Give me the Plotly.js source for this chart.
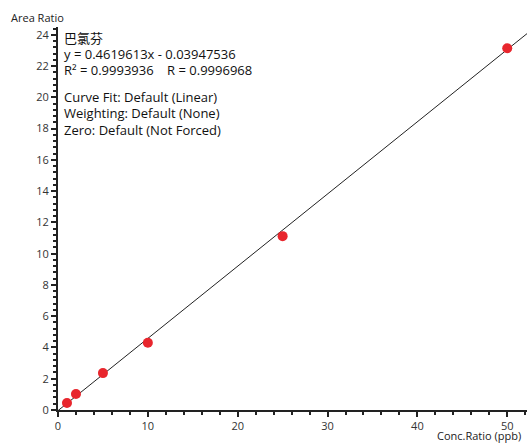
<!DOCTYPE html>
<html><head><meta charset="utf-8">
<script src="https://cdn.plot.ly/plotly-3.0.1.min.js"></script>
<style>html,body{margin:0;padding:0;background:#fff}#c{width:527px;height:444px}</style>
</head><body><div id="c"></div>
<script>
const concRatio = [1, 2, 5, 10, 25, 50];
const areaRatio = [0.45, 1.02, 2.36, 4.3, 11.12, 23.14];
const slope = 0.4619613;
const intercept = -0.03947536;
const fitX = [0, 52.2];
const fitY = fitX.map(v => slope * v + intercept);
const infoLines = [
  "巴氯芬",
  "y = 0.4619613x - 0.03947536",
  "R² = 0.9993936\u00a0\u00a0\u00a0\u00a0R = 0.9996968",
  "Curve Fit: Default (Linear)",
  "Weighting: Default (None)",
  "Zero: Default (Not Forced)"
];
const infoY = [0.9713, 0.9295, 0.8877, 0.8172, 0.7755, 0.7311];
const font = "Open Sans, Noto Sans CJK SC, sans-serif";
const annotations = infoLines.map((t, i) => ({
  text: t, xref: 'paper', yref: 'paper', x: 0.008, y: infoY[i],
  xanchor: 'left', yanchor: 'middle', showarrow: false,
  font: {family: font, size: 13, color: '#111'}
}));
annotations.push({text: 'Area Ratio', xref: 'paper', yref: 'paper', x: -0.105, y: 1.026,
  xanchor: 'left', yanchor: 'middle', showarrow: false, font: {family: font, size: 11, color: '#222'}});
annotations.push({text: 'Conc.Ratio (ppb)', xref: 'paper', yref: 'paper', x: 0.9915, y: -0.067,
  xanchor: 'right', yanchor: 'middle', showarrow: false, font: {family: font, size: 11, color: '#222'}});
const data = [
  {x: fitX, y: fitY, mode: 'lines', line: {color: '#222', width: 1}, hoverinfo: 'skip'},
  {x: concRatio, y: areaRatio, mode: 'markers', marker: {color: '#e8262d', size: 10}}
];
const axisCommon = {
  showgrid: false, zeroline: false, showline: true, linecolor: '#222', linewidth: 2,
  ticks: 'outside', ticklen: 5, tickwidth: 2, tickcolor: '#222',
  tickfont: {family: font, size: 11, color: '#333'}
};
const layout = {
  width: 527, height: 444, showlegend: false,
  paper_bgcolor: '#fff', plot_bgcolor: '#fff',
  margin: {l: 58, r: 0, t: 27, b: 34},
  xaxis: Object.assign({}, axisCommon, {range: [0, 52.2], dtick: 10, tick0: 0,
    minor: {dtick: 2, ticks: 'outside', ticklen: 3, tickwidth: 2, tickcolor: '#222'}}),
  yaxis: Object.assign({}, axisCommon, {range: [0, 24.5], dtick: 2, tick0: 0,
    minor: {dtick: 0.4, ticks: 'outside', ticklen: 3, tickwidth: 2, tickcolor: '#222'}}),
  annotations: annotations
};
Plotly.newPlot('c', data, layout, {displayModeBar: false, staticPlot: true});
</script></body></html>
